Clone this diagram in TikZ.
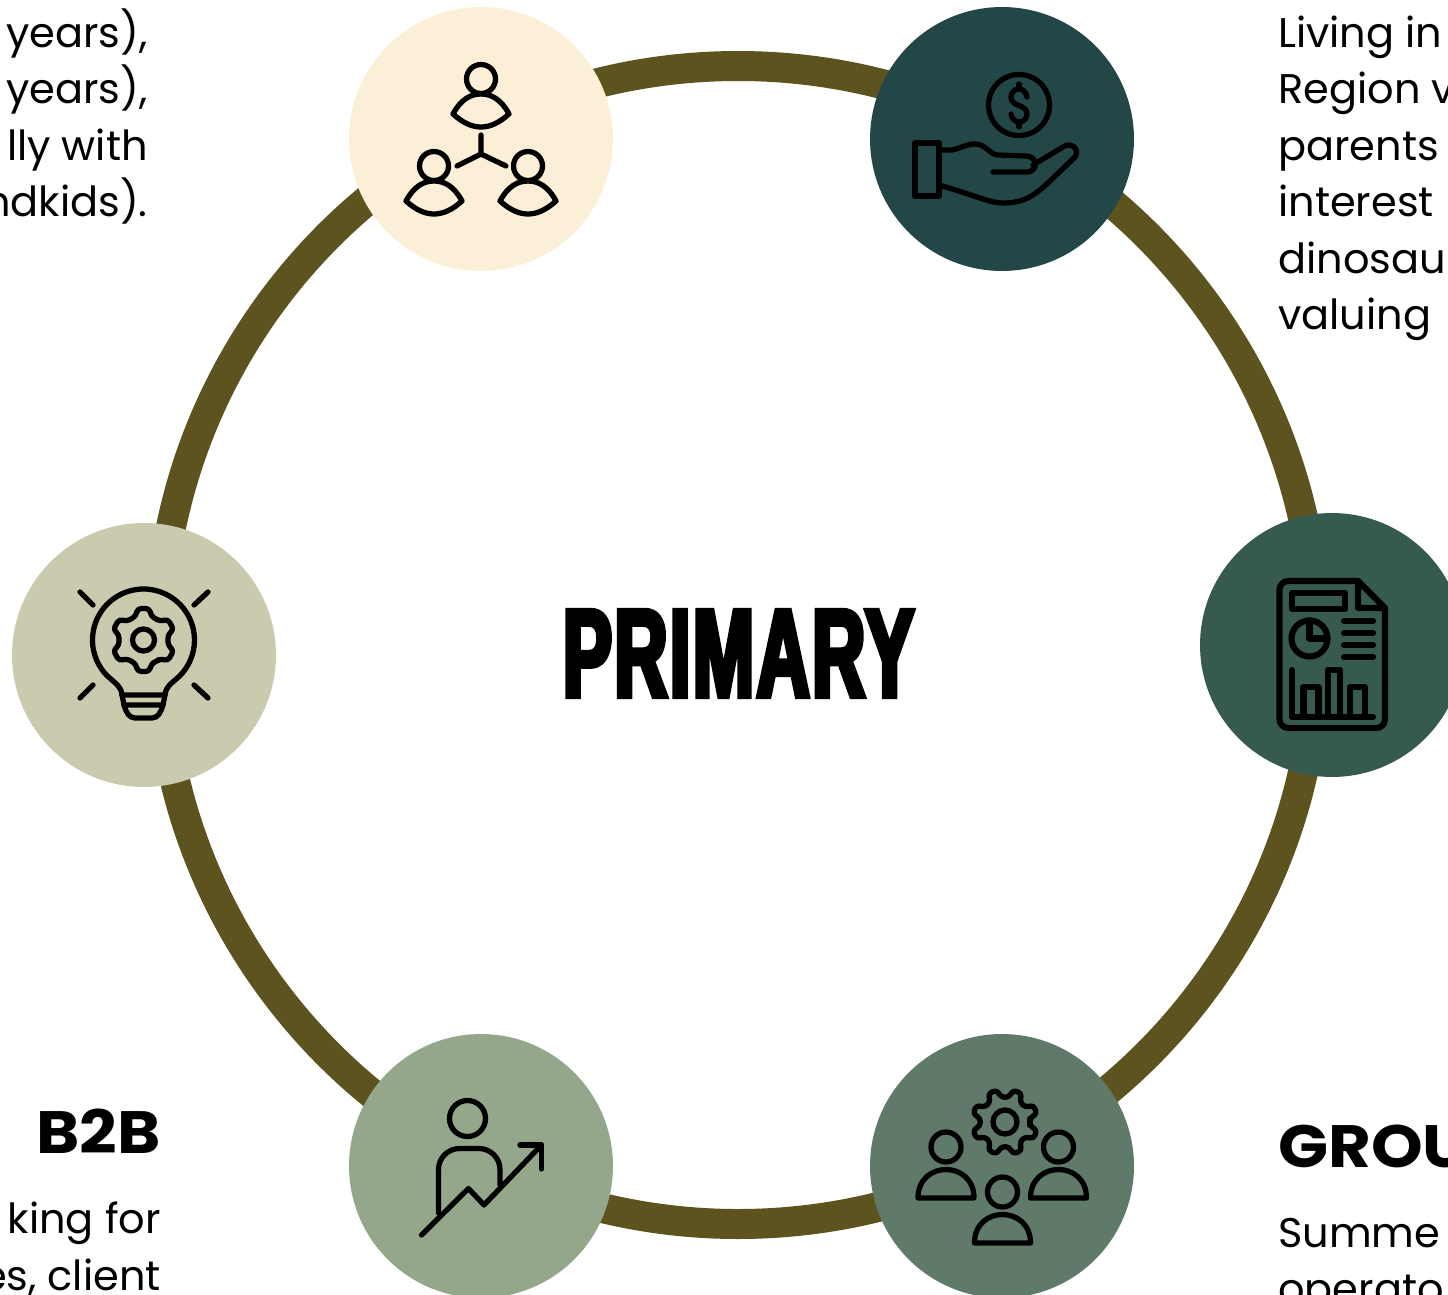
\documentclass[tikz,border=0pt]{standalone}
\usepackage{fontspec}
\setmainfont{Poppins}
\newfontfamily\headfont{Liberation Sans}[UprightFont=* Bold, FakeStretch=0.585, FakeBold=4, LetterSpace=2]
\newfontfamily\heavyfont{Poppins}[FakeStretch=1.1]
\usepackage{tikz}

\definecolor{ringolive}{HTML}{5C531E}
\definecolor{spotcream}{HTML}{FBEFD8}
\definecolor{spotteal}{HTML}{234646}
\definecolor{spotpine}{HTML}{375A4F}
\definecolor{spotsage}{HTML}{5F7A68}
\definecolor{spotmoss}{HTML}{94A78A}
\definecolor{spotstone}{HTML}{C9CAAE}

\tikzset{
    ringline/.style={draw=ringolive, line width=0.6cm},
    spot/.style={circle, inner sep=0pt, minimum size=5.28cm},
    iconline/.style={draw=black, line width=3pt, line cap=round, line join=round},
    sheetline/.style={iconline, line width=3.5pt},
    bodyline/.style={inner sep=0pt, font=\fontsize{23.6}{28}\selectfont},
    headline/.style={inner sep=0pt, font=\fontsize{34}{40}\heavyfont\bfseries},
    bigtitle/.style={inner sep=0pt, font=\fontsize{71.5}{80}\headfont}
}

% gear outline: x, y, teeth, first tooth angle, outer radius, inner radius
\newcommand{\geardraw}[6]{%
    \pgfmathsetmacro{\pitch}{360/#3}
    \pgfmathsetmacro{\lastk}{int(#3-1)}
    \draw[iconline, rounded corners=2pt] ([shift={(#1,#2)}]{#4-0.5*\pitch}:#6)
        \foreach \k in {0,...,\lastk} {
            -- ([shift={(#1,#2)}]{#4+\k*\pitch-0.3*\pitch}:#6)
            -- ([shift={(#1,#2)}]{#4+\k*\pitch-0.18*\pitch}:#5)
            -- ([shift={(#1,#2)}]{#4+\k*\pitch+0.18*\pitch}:#5)
            -- ([shift={(#1,#2)}]{#4+\k*\pitch+0.3*\pitch}:#6)
        } -- cycle;
}

\begin{document}
\begin{tikzpicture}[x=0.02cm, y=-0.02cm]
    \useasboundingbox (0,0) rectangle (1448,1295);

    % Draw the ring
    \coordinate (ringcentre) at (738,645);
    \draw[ringline] (ringcentre) circle (579);

    % Draw the six spots
    \node[spot, fill=spotcream] (spotA) at (481,139) {};
    \node[spot, fill=spotteal] (spotB) at (1002,139) {};
    \node[spot, fill=spotpine] (spotC) at (1332,645) {};
    \node[spot, fill=spotsage] (spotD) at (1002,1166) {};
    \node[spot, fill=spotmoss] (spotE) at (481,1166) {};
    \node[spot, fill=spotstone] (spotF) at (144,655) {};

    % Centre title
    \node[bigtitle] (title) at (738.5,653.5) {PRIMARY};

    % Text on the left, top
    \foreach \y/\t [count=\i] in {47/{- years),}, 103/{- years),}, 160/lly with, 216/ndkids).} {
        \node[bodyline, anchor=base east] (leftline\i) at (148,\y) {\t};
    }

    % Text on the right, top
    \foreach \y/\t [count=\i] in {47/Living in, 103/Region v, 160/parents, 216/interest, 273/dinosau, 329/valuing} {
        \node[bodyline, anchor=base west] (rightline\i) at (1278,\y) {\t};
    }

    % Text at the bottom
    \node[headline, anchor=base east] (btobhead) at (161,1153) {B2B};
    \node[bodyline, anchor=base east] (btobA) at (161,1233) {king for};
    \node[bodyline, anchor=base east] (btobB) at (161,1290) {es, client};
    \node[headline, anchor=base west] (grouphead) at (1278,1167) {GROU};
    \node[bodyline, anchor=base west] (groupA) at (1278,1247) {Summe};
    \node[bodyline, anchor=base west] (groupB) at (1278,1303) {operato};

    % Icon A: three people
    \foreach \x/\y in {481/79, 434/166, 528/166} {
        \draw[iconline] (\x,\y) circle (14.5);
        \draw[iconline] (\x-28,\y+35) .. controls (\x-20,\y+20) and (\x-10,\y+15) .. (\x,\y+15)
            .. controls (\x+10,\y+15) and (\x+20,\y+20) .. (\x+28,\y+35)
            .. controls (\x+18,\y+44) and (\x+9,\y+48) .. (\x,\y+48)
            .. controls (\x-9,\y+48) and (\x-18,\y+44) .. (\x-28,\y+35) -- cycle;
    }
    \draw[iconline] (481,135) -- (481,154) -- (457,166);
    \draw[iconline] (481,154) -- (506,166);

    % Icon B: hand and coin
    \draw[iconline] (1019,105) circle (30.5);
    \draw[iconline] (1027,97) .. controls (1026,91) and (1022,89) .. (1019,89)
        .. controls (1014,89) and (1011,93) .. (1011,97)
        .. controls (1011,102) and (1015,104) .. (1019,105.5)
        .. controls (1023,107) and (1027,109) .. (1027,114)
        .. controls (1027,118) and (1024,122) .. (1019,122)
        .. controls (1015,122) and (1012,119) .. (1011,114);
    \draw[iconline] (1019,84) -- (1019,89);
    \draw[iconline] (1019,122) -- (1019,127);
    \draw[iconline] (915,143) rectangle (939,196);
    \draw[iconline] (939,150) -- (952,150) .. controls (962,148) and (966,144) .. (975,144)
        .. controls (986,144) and (990,155) .. (998,155) -- (1027,156)
        .. controls (1038,157) and (1038,172) .. (1027,172) -- (993,172);
    \draw[iconline] (1033,165) -- (1063,147) .. controls (1072,141) and (1080,150) .. (1075,157)
        -- (1050,181) .. controls (1035,195) and (1025,203) .. (1003,203)
        .. controls (990,203) and (980,197) .. (939,185);

    % Icon C: report sheet
    \draw[sheetline, rounded corners=5pt] (1358,581) -- (1279.5,581) -- (1279.5,728) -- (1385,728) -- (1385,608);
    \draw[sheetline] (1358,581) -- (1385,608) -- (1358,608) -- cycle;
    \draw[sheetline] (1292,593) rectangle (1345,609);
    \draw[sheetline] (1309.5,638.5) circle (18);
    \draw[sheetline] (1309.5,620.5) -- (1309.5,638.5) -- (1327.5,638.5);
    \foreach \y in {621, 633, 645, 657} {
        \draw[sheetline] (1344,\y) -- (1373,\y);
    }
    \draw[sheetline] (1292,670) -- (1292,717) -- (1373,717);
    \draw[sheetline] (1303.5,717) -- (1303.5,687) -- (1318.5,687) -- (1318.5,717);
    \draw[sheetline] (1328,717) -- (1328,670) -- (1340,670) -- (1340,717);
    \draw[sheetline] (1350,717) -- (1350,687) -- (1365,687) -- (1365,717);

    % Icon D: team around a gear
    \geardraw{1005}{1122}{8}{22.5}{33}{25}
    \draw[iconline] (1005,1122) circle (12);
    \foreach \x/\y in {946/1147, 1058.5/1147, 1002.5/1192} {
        \draw[iconline] (\x,\y) circle (15);
        \draw[iconline] (\x-28,\y+51) .. controls (\x-28,\y+13) and (\x+28,\y+13) .. (\x+28,\y+51) -- cycle;
    }

    % Icon E: person and rising arrow
    \draw[iconline] (467.5,1118.5) circle (18);
    \draw[iconline, rounded corners=12pt] (438.5,1213) -- (438.5,1148.5) -- (500,1148.5) -- (500,1185);
    \draw[iconline] (421.5,1235) -- (468.5,1188.5) -- (484,1205) -- (541.5,1145);
    \draw[iconline] (520,1145) -- (541.5,1145) -- (541.5,1169);

    % Icon F: bulb with gear
    \geardraw{143.5}{640}{6}{90}{32}{25}
    \draw[iconline] (143.5,640) circle (11);
    \draw[iconline] (122,695) .. controls (121,686) and (116,684) .. (107.5,676)
        -- plot[domain=135:405, samples=50] ({143.5+51*cos(\x)},{640+51*sin(\x)})
        .. controls (171,684) and (166,686) .. (165,695) -- cycle;
    \draw[iconline] (122,695) -- (124,705) -- (163,705) -- (165,695);
    \draw[iconline] (124,705) .. controls (126,712) and (129,718) .. (135,718) -- (152,718)
        .. controls (158,718) and (161,712) .. (163,705);
    \foreach \xa/\ya/\xb/\yb in {80/592/93/605, 208/592/194/605, 80/698/93/685, 208/698/194/685} {
        \draw[iconline] (\xa,\ya) -- (\xb,\yb);
    }
\end{tikzpicture}
\end{document}
